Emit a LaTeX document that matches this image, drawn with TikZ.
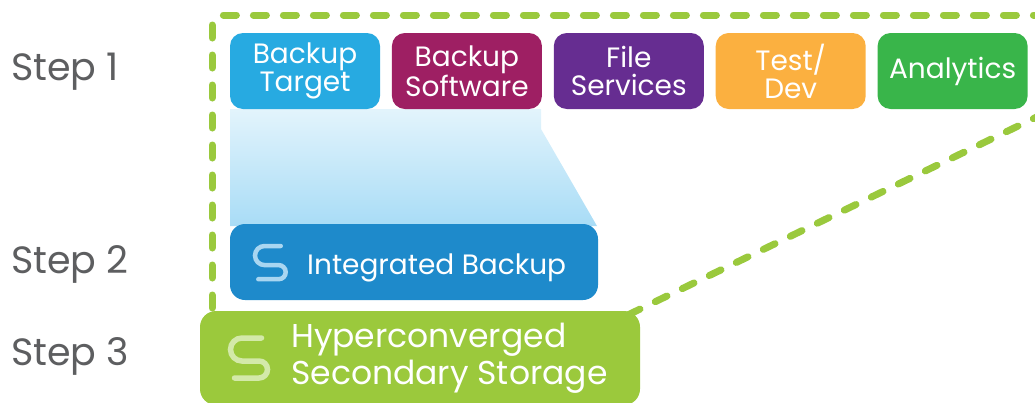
\documentclass[tikz,border=0pt]{standalone}
\usepackage{fontspec}
\setmainfont{Poppins}
\usetikzlibrary{positioning}
\definecolor{stepgray}{HTML}{5D5E60}
\definecolor{framegreen}{HTML}{9AC93D}
\definecolor{targetblue}{HTML}{27AAE1}
\definecolor{softwarered}{HTML}{9E1F63}
\definecolor{filepurple}{HTML}{662D91}
\definecolor{testorange}{HTML}{FBB040}
\definecolor{analyticsgreen}{HTML}{39B54A}
\definecolor{integblue}{HTML}{1E8ACB}
\definecolor{hypergreen}{HTML}{9BC93C}
\definecolor{shadetop}{HTML}{E3F4FC}
\definecolor{shadebottom}{HTML}{A8DCF6}
\definecolor{logogreen}{HTML}{D3E9A9}
\definecolor{logoblue}{HTML}{A9D6F1}
\tikzset{
  appbox/.style={rounded corners=13pt, minimum width=150pt, minimum height=76pt,
    inner sep=0pt, text=white, align=center, font=\fontsize{28}{28}\selectfont},
  steplabel/.style={anchor=base west, inner sep=0pt, text=stepgray,
    font=\fontsize{38}{40}\selectfont},
  frame/.style={framegreen, line width=7pt, line cap=round,
    dash pattern=on 13pt off 17pt},
  slogo/.pic={
    \draw (31,0) -- (11.5,0) .. controls (5.15,0) and (0,5.15) .. (0,11.5)
      .. controls (0,17.85) and (5.15,23) .. (11.5,23) -- (28.5,23)
      .. controls (33.2,23) and (37,26.8) .. (37,31.5)
      .. controls (37,36.2) and (33.2,40) .. (28.5,40) -- (4,40);
  }
}
\begin{document}
\begin{tikzpicture}[x=1pt, y=-1pt]
  \useasboundingbox (0,0) rectangle (1035,402);
  % step labels
  \node[steplabel] (step1) at (11,80) {Step 1};
  \node[steplabel] (step2) at (11,273) {Step 2};
  \node[steplabel] (step3) at (11,365) {Step 3};
  % light blue funnel
  \shade[top color=shadetop, bottom color=shadebottom]
    (230,109) -- (541,109) -- (541,129) -- (597,226) -- (230,226) -- cycle;
  % step 1 row
  \node[appbox, fill=targetblue] (target) at (305,71) {Backup\\Target};
  \node[appbox, fill=softwarered, right=11.5pt of target] (software) {Backup\\Software};
  \node[appbox, fill=filepurple, right=11.5pt of software] (files) {File\\Services};
  \node[appbox, fill=testorange, right=11.5pt of files] (testdev) {Test/\\Dev};
  \node[appbox, fill=analyticsgreen, right=11.5pt of testdev] (analytics) {Analytics};
  % step 2
  \node[rounded corners=15pt, fill=integblue, minimum width=368pt, minimum height=76pt,
    inner sep=0pt] (integ) at (414,262) {};
  \node[anchor=base west, inner sep=0pt, text=white,
    font=\fontsize{28}{32}\selectfont] (integtext) at (307,274) {Integrated Backup};
  \pic[logoblue, line width=4.5pt, line cap=round, scale=0.83] at (255,246) {slogo};
  % step 3
  \begin{scope}
    \clip (0,0) rectangle (1035,402);
    \node[rounded corners=16pt, fill=hypergreen, minimum width=440pt, minimum height=94pt,
      inner sep=0pt] (hyper) at (420,358) {};
  \end{scope}
  \node[anchor=west, inner sep=0pt, text=white, align=left,
    font=\fontsize{33}{37}\selectfont] (hypertext) at (291,358)
    {Hyperconverged\\Secondary Storage};
  \pic[logogreen, line width=5.5pt, line cap=round] at (230.5,338) {slogo};
  % dashed frame
  \coordinate (framestart) at (212,308);
  \coordinate (framecorner) at (212,15);
  \coordinate (frameend) at (1045,15);
  \coordinate (slantend) at (1045,113);
  \draw[frame, rounded corners=10pt] (framestart) -- (framecorner) -- (frameend);
  \draw[frame] (slantend) -- ([xshift=-12pt, yshift=-4pt]hyper.north east);
\end{tikzpicture}
\end{document}
